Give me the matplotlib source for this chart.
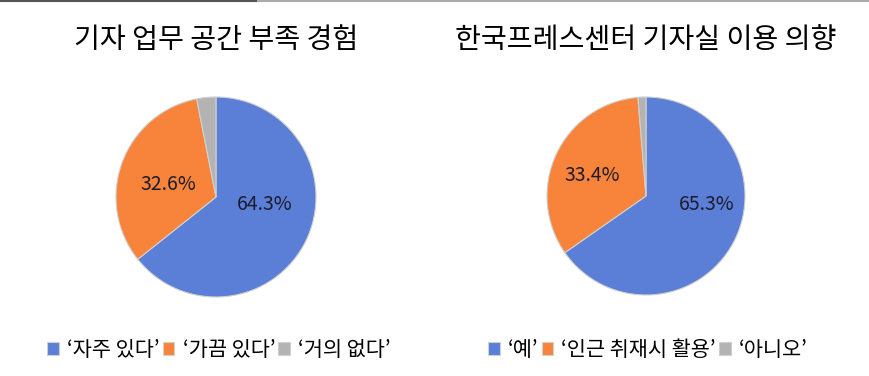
import matplotlib.pyplot as plt
from matplotlib.lines import Line2D

plt.rcParams['font.family'] = ['Noto Sans CJK KR', 'DejaVu Sans']

TITLE_1 = "기자 업무 공간 부족 경험"
LABELS_1 = ["‘자주 있다’", "‘가끔 있다’", "‘거의 없다’"]
VALUES_1 = [64.3, 32.6, 3.1]

TITLE_2 = "한국프레스센터 기자실 이용 의향"
LABELS_2 = ["‘예’", "‘인근 취재시 활용’", "‘아니오’"]
VALUES_2 = [65.3, 33.4, 1.3]

COLORS = ["#5B7FD6", "#F8843B", "#B3B3B3"]

W, H = 870, 376


def draw_pie(cx, cy, r, title, labels, values, label_pos, legend_x):
    ax = fig.add_axes([(cx - r) / W, (H - cy - r) / H, 2 * r / W, 2 * r / H])
    wedges, texts, autotexts = ax.pie(
        values, colors=COLORS, startangle=90, counterclock=False,
        autopct=lambda p: f"{p:.1f}%" if p > 5 else "",
        wedgeprops=dict(edgecolor="#d0d0d0", linewidth=0.8),
        textprops=dict(fontsize=14, color="#1c1c2c"))
    for t, pos in zip(autotexts, label_pos):
        if pos is not None:
            t.set_position(pos)
    ax.set_xlim(-1, 1)
    ax.set_ylim(-1, 1)
    ax.set_aspect("equal")
    fig.text(cx / W, 1 - 40 / H, title, ha="center", va="center", fontsize=20.3,
             fontweight="medium")
    fig.legend(wedges, labels, loc="center", bbox_to_anchor=(legend_x / W, 1 - 350 / H),
               ncol=3, frameon=False, fontsize=15, handlelength=0.55, handleheight=0.55,
               handletextpad=0.4, columnspacing=0.15)


fig = plt.figure(figsize=(8.7, 3.76), dpi=100)

draw_pie(216, 197, 100, TITLE_1, LABELS_1, VALUES_1,
         [(0.49, -0.08), (-0.48, 0.12), None], 219)
draw_pie(646, 196, 99, TITLE_2, LABELS_2, VALUES_2,
         [(0.61, -0.09), (-0.54, 0.21), None], 648)

fig.add_artist(Line2D([0, 258 / W], [0.997, 0.997], color="#555555", linewidth=1.5))
fig.add_artist(Line2D([258 / W, 1], [0.997, 0.997], color="#aaaaaa", linewidth=1.5))

fig.savefig("out.png", dpi=100)
